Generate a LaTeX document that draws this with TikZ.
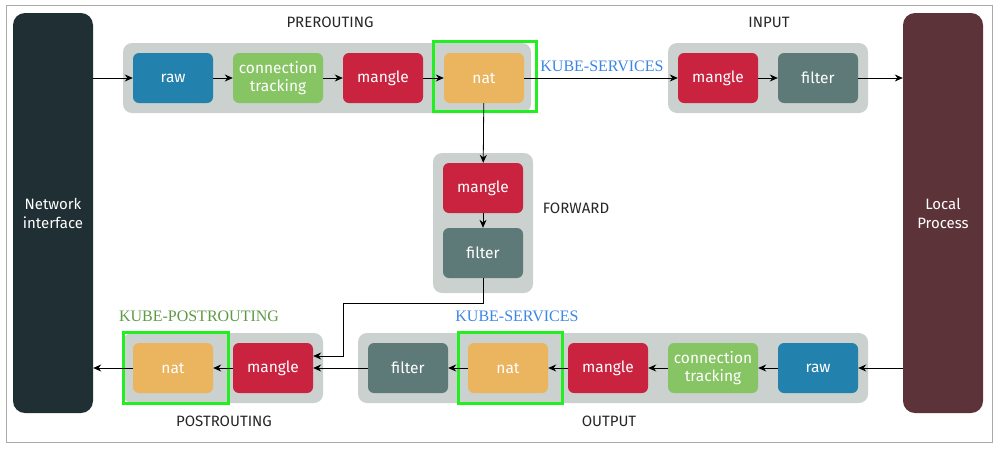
\documentclass[tikz,border=0pt]{standalone}
\usepackage{fontspec}
\setmainfont{Fira Sans}
\newfontfamily\serifkube{Liberation Serif}
\usetikzlibrary{arrows.meta}
\definecolor{cRaw}{HTML}{2381AD}
\definecolor{cCT}{HTML}{86C464}
\definecolor{cMangle}{HTML}{C92340}
\definecolor{cNat}{HTML}{EBB45F}
\definecolor{cFilter}{HTML}{5E7A78}
\definecolor{cGroup}{HTML}{CBD1CE}
\definecolor{cNet}{HTML}{1F2F33}
\definecolor{cLocal}{HTML}{5C3338}
\definecolor{cHi}{HTML}{22EE22}
\definecolor{cBlue}{HTML}{3B86E6}
\definecolor{cOlive}{HTML}{5E9A45}
\definecolor{cBorder}{HTML}{AAAAAA}
\tikzset{
  tbl/.style={rounded corners=6pt, minimum height=50pt, minimum width=80pt, inner sep=0pt,
    text=white, font=\fontsize{15.5}{18.5}\selectfont, align=center},
  ctbl/.style={tbl, minimum width=90pt},
  grp/.style={fill=cGroup, rounded corners=9pt, inner sep=0pt},
  big/.style={rounded corners=12pt, minimum width=80pt, minimum height=400pt, inner sep=0pt,
    text=white, font=\fontsize{15}{19}\selectfont, align=center},
  hi/.style={draw=cHi, line width=3pt, inner sep=0pt},
  lbl/.style={font=\fontsize{15}{17}\selectfont, text=black!85},
  kube/.style={font=\serifkube\fontsize{16}{18}\selectfont},
  arr/.style={-{Stealth[length=8pt,width=7pt]}, line width=0.8pt, black}
}
\begin{document}
\begin{tikzpicture}[x=1pt,y=-1pt]
\useasboundingbox (0,0) rectangle (1001,451);
\draw[cBorder, line width=1pt] (6,5) rectangle (992,442);

% big side blocks
\node[big, fill=cNet] (net) at (53,213) {Network\\interface};
\node[big, fill=cLocal] (loc) at (943,213) {Local\\Process};

% group backgrounds
\node[grp, minimum width=408pt, minimum height=70pt] (gpre) at (327,78) {};
\node[grp, minimum width=200pt, minimum height=70pt] (gin) at (768,78) {};
\node[grp, minimum width=100pt, minimum height=140pt] (gfwd) at (483,223) {};
\node[grp, minimum width=200pt, minimum height=70pt] (gpost) at (223,368) {};
\node[grp, minimum width=510pt, minimum height=70pt] (gout) at (613,368) {};

% highlight rectangles
\node[hi, minimum width=103pt, minimum height=70pt] (hpre) at (484.5,76) {};
\node[hi, minimum width=104pt, minimum height=71pt] (hout) at (510,367.5) {};
\node[hi, minimum width=105pt, minimum height=71pt] (hpost) at (175.5,367.5) {};

% PREROUTING
\node[tbl, fill=cRaw] (praw) at (173,78) {raw};
\node[ctbl, fill=cCT] (pct) at (278,78) {connection\\tracking};
\node[tbl, fill=cMangle] (pmangle) at (383,78) {mangle};
\node[tbl, fill=cNat] (pnat) at (484,78) {nat};

% INPUT
\node[tbl, fill=cMangle] (imangle) at (718,78) {mangle};
\node[tbl, fill=cFilter] (ifilter) at (818,78) {filter};

% FORWARD
\node[tbl, fill=cMangle] (fmangle) at (483,188) {mangle};
\node[tbl, fill=cFilter] (ffilter) at (483,253) {filter};

% POSTROUTING
\node[tbl, fill=cNat] (qnat) at (173,368) {nat};
\node[tbl, fill=cMangle] (qmangle) at (273,368) {mangle};

% OUTPUT
\node[tbl, fill=cFilter] (ofilter) at (408,368) {filter};
\node[tbl, fill=cNat] (onat) at (508,368) {nat};
\node[tbl, fill=cMangle] (omangle) at (608,368) {mangle};
\node[ctbl, fill=cCT] (oct) at (713,368) {connection\\tracking};
\node[tbl, fill=cRaw] (oraw) at (818,368) {raw};

% labels
\node[lbl] (lpre) at (330,22) {PREROUTING};
\node[lbl] (lin) at (769,22) {INPUT};
\node[lbl] (lfwd) at (576,208) {FORWARD};
\node[lbl] (lpost) at (224,421) {POSTROUTING};
\node[lbl] (lout) at (609,421) {OUTPUT};
\node[kube, text=cBlue] (kin) at (602,66) {KUBE-SERVICES};
\node[kube, text=cBlue] (kout) at (517,316) {KUBE-SERVICES};
\node[kube, text=cOlive] (kpost) at (199,316) {KUBE-POSTROUTING};

% arrows top
\draw[arr] (net.east |- praw) -- (praw.west);
\draw[arr] (praw) -- (pct);
\draw[arr] (pct) -- (pmangle);
\draw[arr] (pmangle) -- (pnat);
\draw[arr] (pnat) -- (imangle);
\draw[arr] (imangle) -- (ifilter);
\draw[arr] (ifilter) -- (loc.west |- ifilter);

% forward
\draw[arr] (pnat) -- (fmangle);
\draw[arr] (fmangle) -- (ffilter);
\coordinate (fa) at (483,303);
\coordinate (fb) at (343,303);
\coordinate (fc) at (343,356);
\draw[arr] (ffilter.south) -- (fa) -- (fb) -- (fc) -- (qmangle.east |- fc);

% bottom
\draw[arr] (loc.west |- oraw) -- (oraw.east);
\draw[arr] (oraw) -- (oct);
\draw[arr] (oct) -- (omangle);
\draw[arr] (omangle) -- (onat);
\draw[arr] (onat) -- (ofilter);
\draw[arr] (ofilter) -- (qmangle);
\draw[arr] (qmangle) -- (qnat);
\draw[arr] (qnat) -- (net.east |- qnat);
\end{tikzpicture}
\end{document}
